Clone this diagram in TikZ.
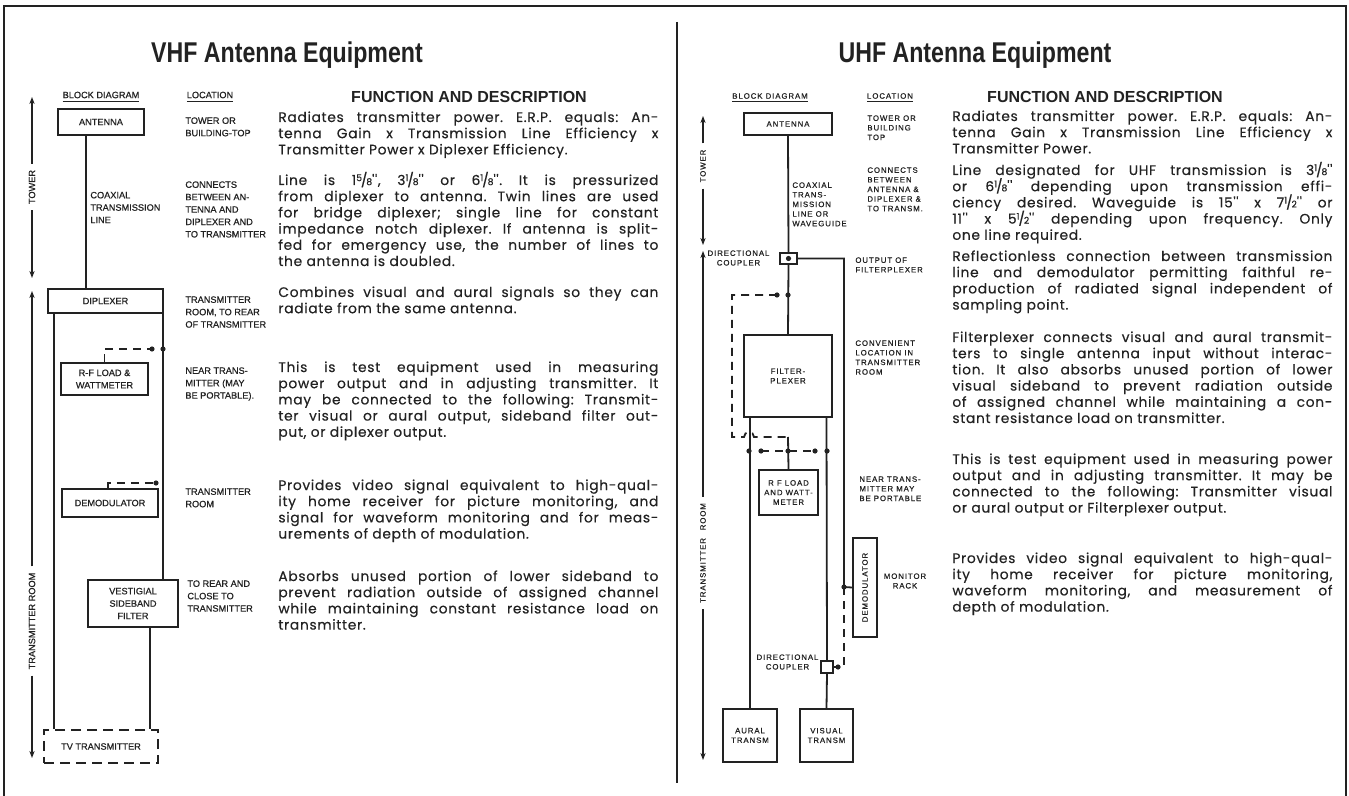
\documentclass[tikz,border=0pt]{standalone}
\usepackage{fontspec}
\usepackage{graphicx}
\usetikzlibrary{arrows.meta}
\setmainfont{Liberation Sans}
\newfontfamily\descfont[LetterSpace=5,FakeBold=0.35]{Poppins}
\newfontfamily\labfont[FakeBold=0.6]{Liberation Sans}
\newfontfamily\labfontB[LetterSpace=12,FakeBold=0.6]{Liberation Sans}
\definecolor{ink}{HTML}{222222}
\frenchspacing
\newcommand\labA{\labfont\fontsize{4.6}{6.2}\selectfont}
\newcommand\labB{\labfontB\fontsize{3.9}{4.8}\selectfont}
\newcommand\descsz{\descfont\fontsize{6.9}{8.1}\selectfont\lineskiplimit=-20pt\frenchspacing}
\newcommand\titlefnt{\fontsize{14.3}{16}\selectfont\bfseries}
\newcommand\hdfnt{\fontsize{8}{9}\selectfont\bfseries}
\newcommand\jl[1]{\makebox[190pt][s]{#1}}
\newcommand\fr[2]{\raisebox{0.28em}{\fontsize{4.6}{4}\selectfont #1}\kern-0.08em/\kern-0.08em{\fontsize{4.6}{4}\selectfont #2}}
\newcommand\para[1]{\parbox[t]{190pt}{\descsz #1}}
\tikzset{
  x=0.5pt, y=-0.5pt,
  every node/.style={inner sep=0pt, text=ink},
  ln/.style={draw=ink, line width=0.9pt},
  dsh/.style={dash pattern=on 4pt off 3pt},
  bx/.style 2 args={draw=ink, line width=0.9pt, fill=white, minimum width=#1*0.5pt, minimum height=#2*0.5pt, align=center},
  bxA/.style 2 args={bx={#1}{#2}, font=\labA},
  bxB/.style 2 args={bx={#1}{#2}, font=\labB},
  dot/.style={circle, fill=ink, minimum size=2.6pt},
  labA/.style={font=\labA, align=left, anchor=north west},
  labB/.style={font=\labB, align=left, anchor=north west},
  arr/.style={draw=ink, line width=0.8pt, -{Stealth[length=3.5pt,width=2.6pt]}},
  vtxt/.style={rotate=90, inner xsep=3pt},
  desc/.style={anchor=base west},
}
\begin{document}
\begin{tikzpicture}
\fill[white] (0,0) rectangle (1349,796);
\useasboundingbox (0,0) rectangle (1349,796);
% frame
\draw[ink, line width=1.4pt] (4,796) -- (4,6) -- (1346,6) -- (1346,796);
\draw[ink, line width=1.1pt] (677,22) -- (677,783);

% ================= VHF =================
\node[font=\titlefnt] (t1) at (287,55) {\scalebox{0.81}[1]{VHF Antenna Equipment}};
\node[font=\labA] (vbd) at (101,97) {\underline{BLOCK DIAGRAM}};
\node[font=\labA] (vloc) at (210,97) {\underline{LOCATION}};
\node[font=\hdfnt] (vfd) at (469,97) {FUNCTION AND DESCRIPTION};

% side arrows
\node[vtxt, font=\labA] (vtw) at (32,187) {TOWER};
\coordinate (vtw1) at (32,97); \coordinate (vtw2) at (32,278);
\draw[arr] (vtw.east) -- (vtw1);
\draw[arr] (vtw.west) -- (vtw2);
\node[vtxt, font=\labA] (vtr) at (32,621) {TRANSMITTER ROOM};
\coordinate (vtr1) at (32,291); \coordinate (vtr2) at (32,758);
\draw[arr] (vtr.east) -- (vtr1);
\draw[arr] (vtr.west) -- (vtr2);

% blocks
\node[bxA={86}{26}] (ant) at (101,122) {ANTENNA};
\node[bxA={115}{24}] (dip) at (105.5,301) {DIPLEXER};
\node[bxA={87}{32}] (rfl) at (104.5,379) {R-F LOAD \&\\WATTMETER};
\node[bxA={96}{28}] (dem) at (110,503) {DEMODULATOR};
\node[bxA={90}{47}] (vsb) at (133,603.5) {VESTIGIAL\\SIDEBAND\\FILTER};
\node[bxA={114}{33}, dash pattern=on 5pt off 3pt] (tvt) at (101,746.5) {TV TRANSMITTER};

\draw[ln] ([xshift=-7.5pt]ant.south) -- ([xshift=-7.5pt]ant.south |- dip.north);
\draw[ln] ([xshift=-25.75pt]dip.south) -- ([xshift=-25.75pt]dip.south |- tvt.north);
\draw[ln] ([xshift=28.75pt]dip.south) -- ([xshift=28.75pt]dip.south |- vsb.north);
\draw[ln] ([xshift=8.5pt]vsb.south) -- ([xshift=8.5pt]vsb.south |- tvt.north);
\coordinate (vr1) at (152,349); \coordinate (vj1) at (163,349);
\draw[ln,dsh] (rfl.north) |- (vr1);
\node[dot] at (vr1) {}; \node[dot] at (vj1) {};
\coordinate (vr2) at (156,483);
\draw[ln,dsh] ([xshift=-1pt]dem.north) |- (vr2);
\node[dot] at (vr2) {};

\node[labA] (vcx) at (90,191.5) {COAXIAL\\TRANSMISSION\\LINE};

% location labels
\node[labA] (vl1) at (185,117) {TOWER OR\\BUILDING-TOP};
\node[labA] (vl2) at (185,181) {CONNECTS\\BETWEEN AN-\\TENNA AND\\DIPLEXER AND\\TO TRANSMITTER};
\node[labA] (vl3) at (185,296) {TRANSMITTER\\ROOM, TO REAR\\OF TRANSMITTER};
\node[labA] (vl4) at (185,367) {NEAR TRANS-\\MITTER (MAY\\BE PORTABLE).};
\node[labA] (vl5) at (185,488) {TRANSMITTER\\ROOM};
\node[labA] (vl6) at (187,580) {TO REAR AND\\CLOSE TO\\TRANSMITTER};

% descriptions
\node[desc] (vd1) at (278,122) {\para{%
\jl{Radiates transmitter power. E.R.P. equals: An-}\\
\jl{tenna Gain x Transmission Line Efficiency x}\\
Transmitter Power x Diplexer Efficiency.}};
\node[desc] (vd2) at (278,185) {\para{%
\jl{Line is 1\fr58'', 3\fr18'' or 6\fr18''. It is pressurized}\\
\jl{from diplexer to antenna. Twin lines are used}\\
\jl{for bridge diplexer; single line for constant}\\
\jl{impedance notch diplexer. If antenna is split-}\\
\jl{fed for emergency use, the number of lines to}\\
the antenna is doubled.}};
\node[desc] (vd3) at (278,297) {\para{%
\jl{Combines visual and aural signals so they can}\\
radiate from the same antenna.}};
\node[desc] (vd4) at (278,372) {\para{%
\jl{This is test equipment used in measuring}\\
\jl{power output and in adjusting transmitter. It}\\
\jl{may be connected to the following: Transmit-}\\
\jl{ter visual or aural output, sideband filter out-}\\
put, or diplexer output.}};
\node[desc] (vd5) at (278,490) {\para{%
\jl{Provides video signal equivalent to high-qual-}\\
\jl{ity home receiver for picture monitoring, and}\\
\jl{signal for waveform monitoring and for meas-}\\
urements of depth of modulation.}};
\node[desc] (vd6) at (278,581) {\para{%
\jl{Absorbs unused portion of lower sideband to}\\
\jl{prevent radiation outside of assigned channel}\\
\jl{while maintaining constant resistance load on}\\
transmitter.}};

% ================= UHF =================
\node[font=\titlefnt] (t2) at (975,55) {\scalebox{0.81}[1]{UHF Antenna Equipment}};
\node[font=\labB] (ubd) at (770,98) {\underline{BLOCK DIAGRAM}};
\node[font=\labB] (uloc) at (890,98) {\underline{LOCATION}};
\node[font=\hdfnt] (ufd) at (1105,97) {FUNCTION AND DESCRIPTION};

\node[vtxt, font=\labB] (utw) at (703,166) {TOWER};
\coordinate (utw1) at (703,116); \coordinate (utw2) at (703,245);
\draw[arr] (utw.east) -- (utw1);
\draw[arr] (utw.west) -- (utw2);
\node[vtxt, font=\labB] (utr) at (703,553) {TRANSMITTER\quad ROOM};
\coordinate (utr1) at (703,251); \coordinate (utr2) at (703,760);
\draw[arr] (utr.east) -- (utr1);
\draw[arr] (utr.west) -- (utr2);

\node[bxB={88}{22}] (uant) at (788,124) {ANTENNA};
\node[bx={17}{11}] (dc1) at (788.5,258.5) {};
\node[bxB={88}{82}] (fpx) at (788,376) {FILTER-\\PLEXER};
\node[bxB={59}{45}] (urf) at (788.5,492.5) {R F LOAD\\AND WATT-\\METER};
\node[bxB={24}{99}] (udem) at (865,587.5) {\rotatebox{90}{DEMODULATOR}};
\node[bx={12}{12}] (dc2) at (827,667) {};
\node[bxB={54}{53}] (aur) at (750,735.5) {AURAL\\TRANSM};
\node[bxB={53}{53}] (vis) at (826.5,735.5) {VISUAL\\TRANSM};

\draw[ln] (uant.south) -- (dc1.north);
\draw[ln] (dc1.south) -- (fpx.north);
\node[dot] at (dc1.center) {};
\coordinate (uj3) at (844,587);
\draw[ln] (dc1.east) -| (uj3) -- (udem.west);
\coordinate (ud2) at (838,667);
\draw[ln,dsh] (uj3) |- (ud2);
\draw[ln] (ud2) -- (dc2.east);
\node[dot] at (uj3) {}; \node[dot] at (ud2) {};
\draw[ln] (aur.north |- fpx.south) -- (aur.north);
\draw[ln] (vis.north |- fpx.south) -- (dc2.north);
\draw[ln] (dc2.south) -- (vis.north);

\coordinate (uj1) at (788,295); \coordinate (ue1) at (777,295);
\coordinate (uk1) at (732,295); \coordinate (uk2) at (732,437);
\coordinate (uh) at (744,437); \coordinate (uk3) at (788,437);
\draw[ln,dsh] (ue1) -- (uk1) -- (uk2) -- (uh) arc[start angle=180, end angle=0, radius=2.5pt] -- (uk3);
\draw[ln] (uk3) -- (urf.north);
\node[dot] at (uj1) {}; \node[dot] at (ue1) {};
\coordinate (ua) at (749,451); \coordinate (ub) at (761,451);
\coordinate (uc) at (788,451); \coordinate (ud) at (815,451);
\coordinate (ue) at (827,451);
\draw[ln,dsh] (ub) -- (ud);
\foreach \p in {ua,ub,uc,ud,ue} \node[dot] at (\p) {};

\node[labB] (ucx) at (792,182) {COAXIAL\\TRANS-\\MISSION\\LINE OR\\WAVEGUIDE};
\node[font=\labB, align=center] (udc1) at (738.5,258) {DIRECTIONAL\\COUPLER};
\node[font=\labB, align=center] (udc2) at (787.5,662) {DIRECTIONAL\\COUPLER};
\node[font=\labB, align=center] (umr) at (905,581) {MONITOR\\RACK};

\node[labB] (ul1) at (867,115) {TOWER OR\\BUILDING\\TOP};
\node[labB] (ul2) at (867,167) {CONNECTS\\BETWEEN\\ANTENNA \&\\DIPLEXER \&\\TO TRANSM.};
\node[labB] (ul3) at (855,257) {OUTPUT OF\\FILTERPLEXER};
\node[labB] (ul4) at (855,340) {CONVENIENT\\LOCATION IN\\TRANSMITTER\\ROOM};
\node[labB] (ul5) at (859,476) {NEAR TRANS-\\MITTER MAY\\BE PORTABLE};

\node[desc] (ud1) at (952,121) {\para{%
\jl{Radiates transmitter power. E.R.P. equals: An-}\\
\jl{tenna Gain x Transmission Line Efficiency x}\\
Transmitter Power.}};
\node[desc] (ud2t) at (952,175) {\para{%
\jl{Line designated for UHF transmission is 3\fr18''}\\
\jl{or 6\fr18'' depending upon transmission effi-}\\
\jl{ciency desired. Waveguide is 15'' x 7\fr12'' or}\\
\jl{11'' x 5\fr12'' depending upon frequency. Only}\\
one line required.}};
\node[desc] (ud3) at (952,261) {\para{%
\jl{Reflectionless connection between transmission}\\
\jl{line and demodulator permitting faithful re-}\\
\jl{production of radiated signal independent of}\\
sampling point.}};
\node[desc] (ud4) at (952,342) {\para{%
\jl{Filterplexer connects visual and aural transmit-}\\
\jl{ters to single antenna input without interac-}\\
\jl{tion. It also absorbs unused portion of lower}\\
\jl{visual sideband to prevent radiation outside}\\
\jl{of assigned channel while maintaining a con-}\\
stant resistance load on transmitter.}};
\node[desc] (ud5) at (952,464) {\para{%
\jl{This is test equipment used in measuring power}\\
\jl{output and in adjusting transmitter. It may be}\\
\jl{connected to the following: Transmitter visual}\\
or aural output or Filterplexer output.}};
\node[desc] (ud6) at (952,563) {\para{%
\jl{Provides video signal equivalent to high-qual-}\\
\jl{ity home receiver for picture monitoring,}\\
\jl{waveform monitoring, and measurement of}\\
depth of modulation.}};
\end{tikzpicture}
\end{document}
